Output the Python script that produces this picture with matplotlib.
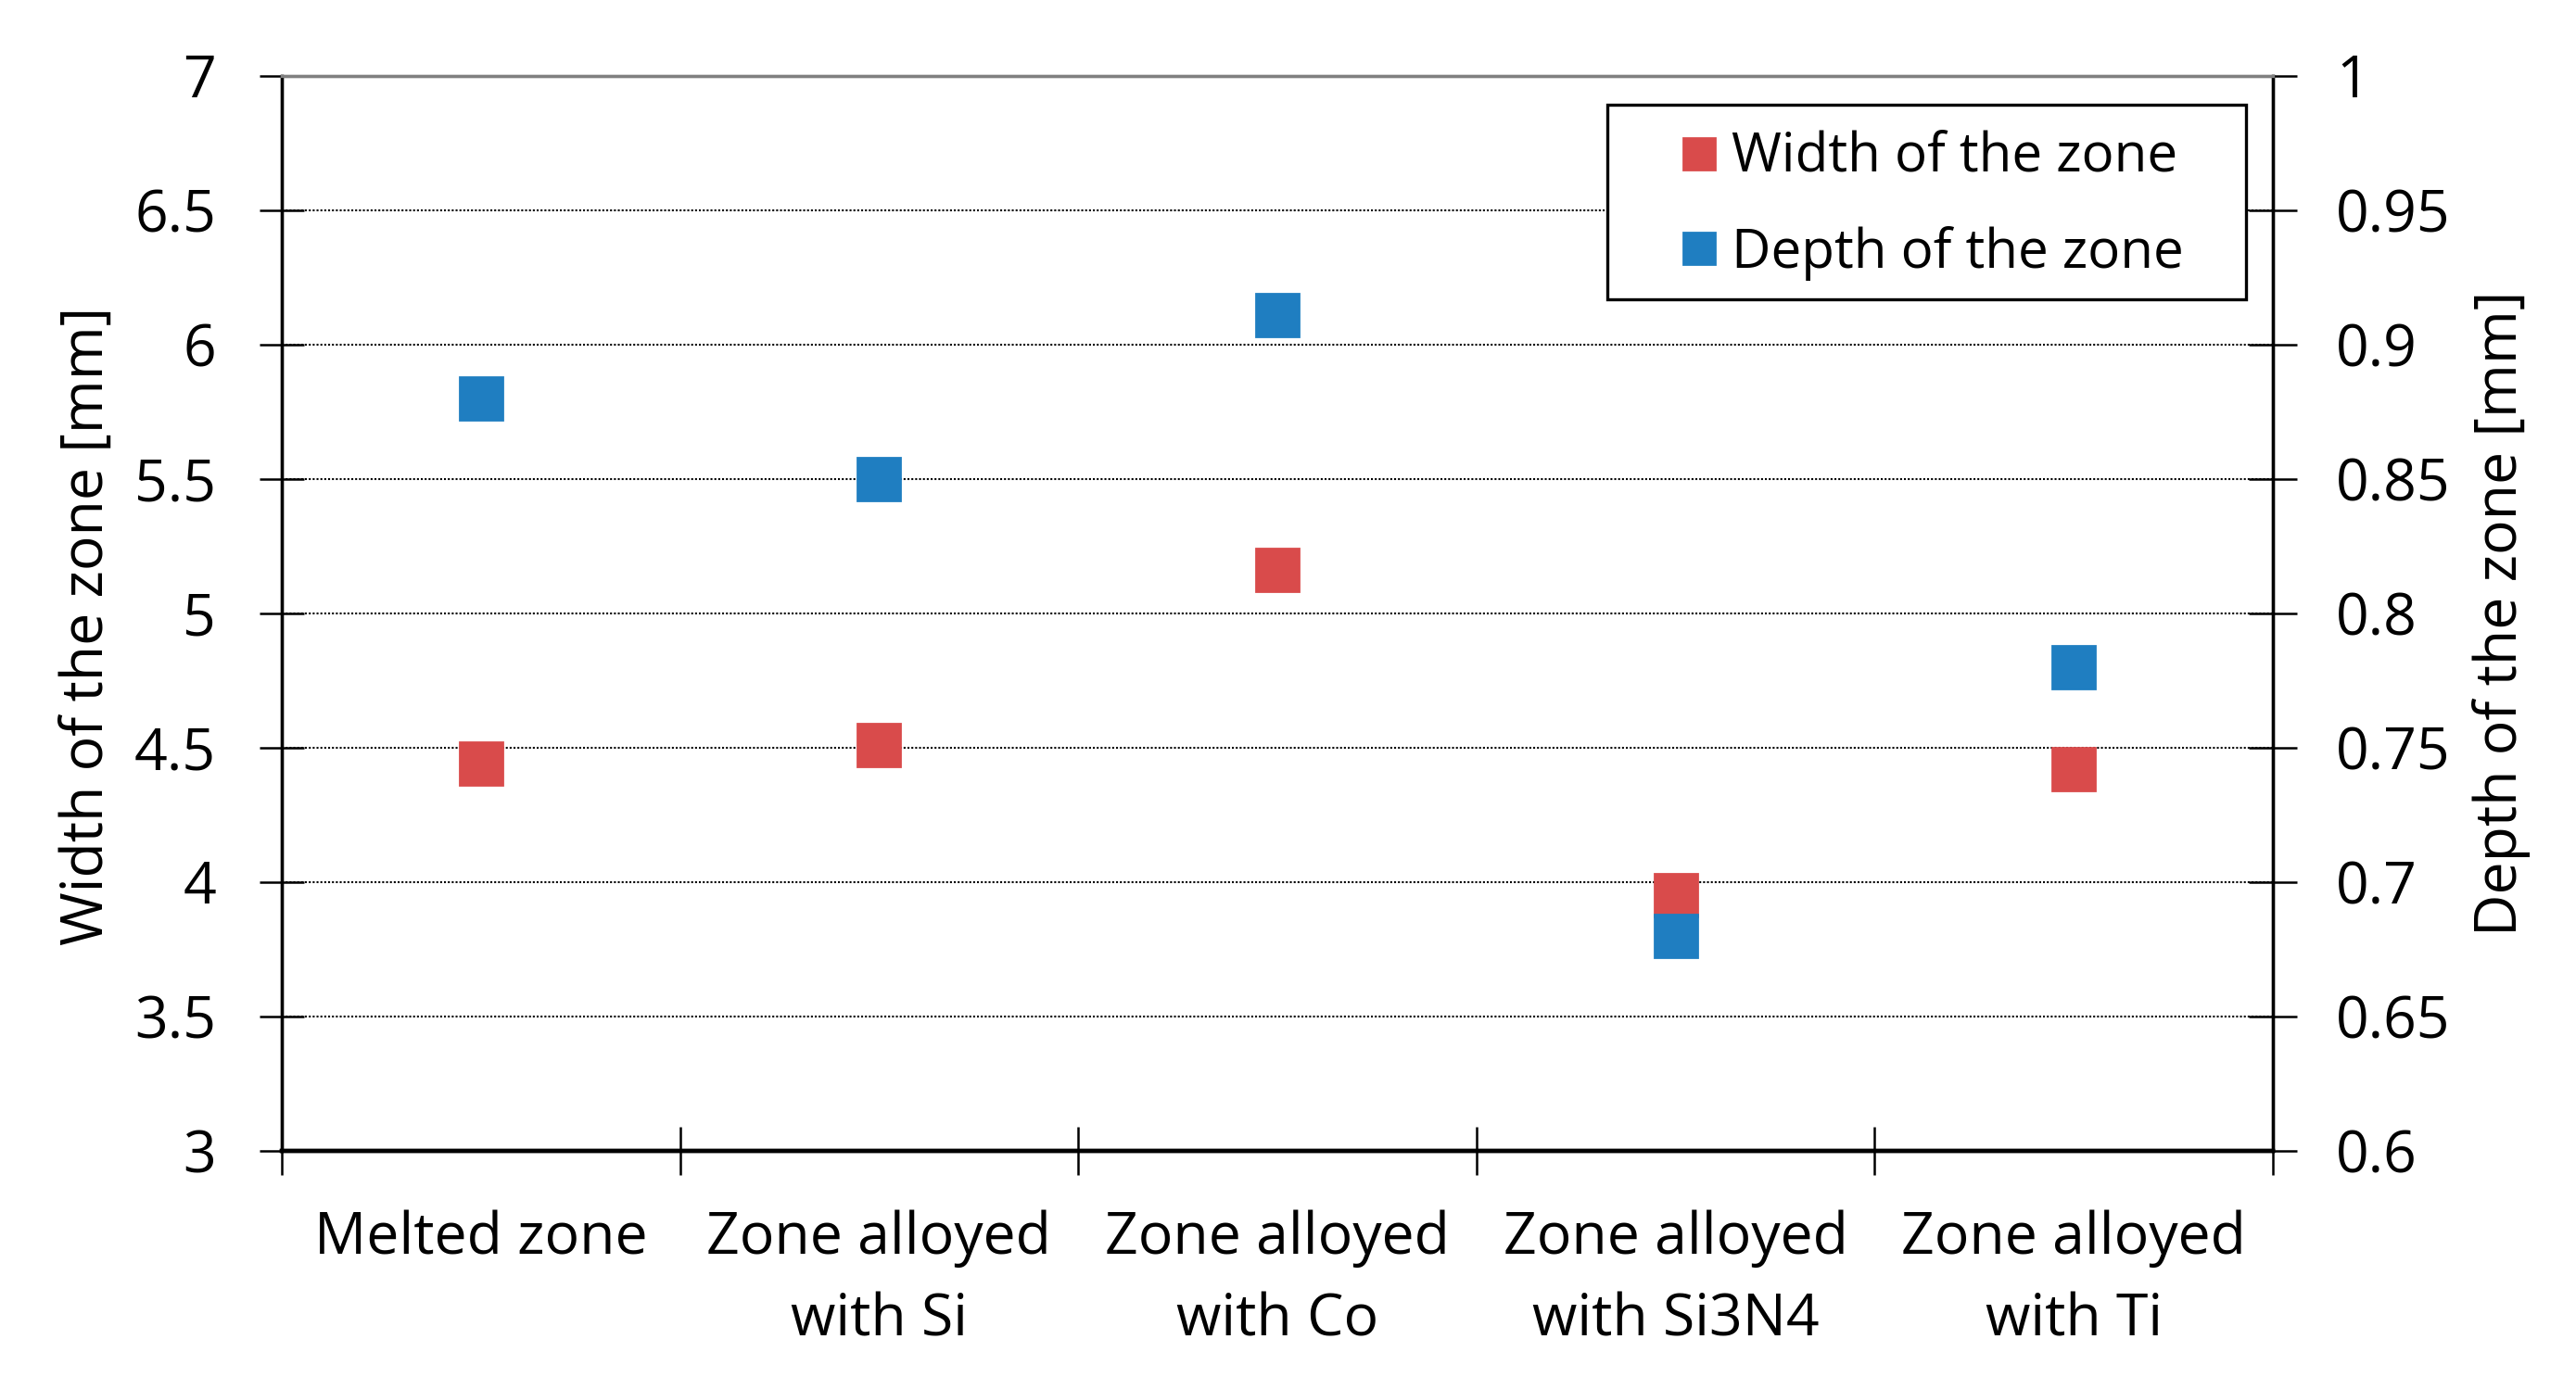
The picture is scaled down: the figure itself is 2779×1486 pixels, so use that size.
import matplotlib.pyplot as plt
from matplotlib.patches import Rectangle
import numpy as np

plt.rcParams['font.family'] = ['Open Sans', 'DejaVu Sans']

categories = ["Melted zone", "Zone alloyed\nwith Si", "Zone alloyed\nwith Co",
              "Zone alloyed\nwith Si3N4", "Zone alloyed\nwith Ti"]
width_mm = [4.44, 4.51, 5.16, 3.95, 4.42]
depth_mm = [0.88, 0.85, 0.911, 0.68, 0.78]

red = '#D94B4B'
blue = '#1F7EC1'
fs = 22.5

fig, ax = plt.subplots(figsize=(13.895, 7.43), dpi=200)
fig.subplots_adjust(left=0.1094, right=0.8823, top=0.945, bottom=0.1644)
ax2 = ax.twinx()

x = np.arange(1, len(categories) + 1)
h1, = ax.plot(x, width_mm, 's', color=red, ms=16.5, label='Width of the zone', zorder=3)
h2, = ax2.plot(x, depth_mm, 's', color=blue, ms=16.5, label='Depth of the zone', zorder=3)

ax.set_xlim(0.5, len(categories) + 0.5)
ax.set_ylim(3, 7)
ax2.set_ylim(0.6, 1.0)
ax.set_yticks(np.arange(3, 7.01, 0.5))
ax.set_yticklabels(['3', '3.5', '4', '4.5', '5', '5.5', '6', '6.5', '7'])
ax2.set_yticks(np.arange(0.6, 1.001, 0.05))
ax2.set_yticklabels(['0.6', '0.65', '0.7', '0.75', '0.8', '0.85', '0.9', '0.95', '1'])

# boundaries between categories get the tick marks, labels sit at the centres
ax.set_xticks(np.arange(0.5, len(categories) + 0.6, 1))
ax.set_xticklabels([])
ax.set_xticks(x, minor=True)
ax.set_xticklabels(categories, minor=True, fontsize=fs)
for t in ax.get_xticklabels(minor=True):
    t.set_linespacing(1.54)
ax.tick_params(axis='x', which='major', direction='inout', length=19, width=0.9)
ax.tick_params(axis='x', which='minor', length=0, pad=23)

ax.tick_params(axis='y', direction='inout', length=17, width=0.9, labelsize=fs, pad=17)
ax2.tick_params(axis='y', direction='inout', length=19, width=0.9, labelsize=fs, pad=15)

for yv in np.arange(3.5, 6.6, 0.5):
    ax.axhline(yv, color='black', lw=0.75, ls=(0, (1, 1)), zorder=1)

for a in (ax, ax2):
    a.spines['top'].set_color('#808080')
    a.spines['top'].set_linewidth(1.2)
    a.spines['bottom'].set_linewidth(1.6)
    a.spines['left'].set_linewidth(1.2)
    a.spines['right'].set_linewidth(1.2)

ax.set_ylabel('Width of the zone [mm]', fontsize=fs)
ax.yaxis.set_label_coords(-0.0831, 0.488)
ax2.set_ylabel('Depth of the zone [mm]', fontsize=fs)
ax2.yaxis.set_label_coords(1.1, 0.5)

# legend frame drawn separately so its padding can differ per side
ax2.add_patch(Rectangle((0.6657, 0.792), 0.3208, 0.1813, transform=ax2.transAxes,
                        facecolor='white', edgecolor='black', lw=1.2, zorder=4))
leg = ax2.legend(handles=[h1, h2], loc='center', bbox_to_anchor=(0.8268, 0.879),
                 borderaxespad=0, fontsize=21, markerscale=0.76, frameon=False,
                 labelspacing=0.75, handlelength=1.0, handletextpad=0.1, borderpad=0.2)
leg.set_zorder(5)

fig.savefig('out.png', dpi=200)
